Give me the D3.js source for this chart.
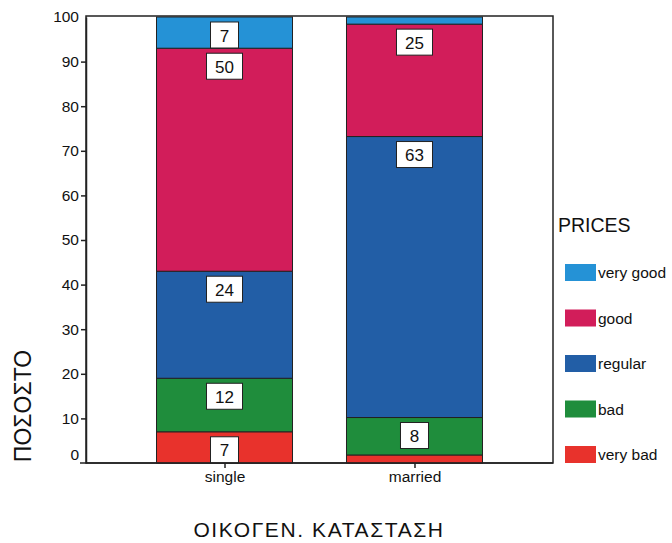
<!DOCTYPE html>
<html>
<head>
<meta charset="utf-8">
<script src="https://cdn.jsdelivr.net/npm/d3@7"></script>
<style>
  body { margin: 0; background: #fff; }
  svg text { font-family: "Liberation Sans", Arial, sans-serif; fill: #111; }
</style>
</head>
<body>
<svg id="vis" width="672" height="543"></svg>
<script>
// Datos
const CATEGORIAS = ["single", "married"];
const NIVELES = ["very bad", "bad", "regular", "good", "very good"];
const VALORES_SINGLE = [7, 12, 24, 50, 7];
const VALORES_MARRIED = [1.8, 8.4, 63.0, 25.2, 1.6];
const COLORES = ["#e8322c", "#1f8d3c", "#225ea6", "#d21d5a", "#2592d6"];
const TICKS_Y = [0, 10, 20, 30, 40, 50, 60, 70, 80, 90, 100];

const SVG = d3.select("#vis");

const izq = 86, der = 553, arriba = 17, abajo = 463;
const anchoBarra = 136;

const x = d3.scalePoint().domain(CATEGORIAS).range([izq, der]).padding(0.729);
const y = d3.scaleLinear().domain([0, 100]).range([abajo, arriba]);
const color = d3.scaleOrdinal().domain(NIVELES).range(COLORES);

// Construir filas para el stack
const filas = CATEGORIAS.map((c, i) => {
  const vals = i === 0 ? VALORES_SINGLE : VALORES_MARRIED;
  const fila = { cat: c };
  NIVELES.forEach((n, j) => fila[n] = vals[j]);
  return fila;
});
const series = d3.stack().keys(NIVELES)(filas);

// Marco
SVG.append("rect")
  .attr("x", izq).attr("y", arriba - 1)
  .attr("width", der - izq).attr("height", abajo - arriba + 1)
  .attr("fill", "none").attr("stroke", "#222").attr("stroke-width", 1.5);

// Barras
const grupos = SVG.selectAll(".serie")
  .data(series)
  .join("g")
  .attr("class", "serie")
  .attr("fill", d => color(d.key));

grupos.selectAll("rect")
  .data(d => d)
  .join("rect")
  .attr("x", d => x(d.data.cat) - anchoBarra / 2)
  .attr("y", d => y(d[1]))
  .attr("width", anchoBarra)
  .attr("height", d => y(d[0]) - y(d[1]))
  .attr("stroke", "#222")
  .attr("stroke-width", 1);

// Etiquetas con caja blanca (solo segmentos grandes)
const etiquetas = [];
series.forEach(s => s.forEach(d => {
  const v = d[1] - d[0];
  if (v >= 5) etiquetas.push({ cat: d.data.cat, top: d[1], texto: String(Math.round(v)) });
}));

const cajas = SVG.selectAll(".etiqueta")
  .data(etiquetas)
  .join("g")
  .attr("class", "etiqueta")
  .attr("transform", d => `translate(${x(d.cat)}, ${y(d.top) + 5})`);

cajas.append("rect")
  .attr("x", d => d.texto.length > 1 ? -18 : -14)
  .attr("width", d => d.texto.length > 1 ? 36 : 28)
  .attr("height", 26)
  .attr("fill", "#fff")
  .attr("stroke", "#222");

cajas.append("text")
  .attr("y", 19.5)
  .attr("text-anchor", "middle")
  .attr("font-size", 17)
  .text(d => d.texto);

// Eje Y
const ejeY = SVG.append("g").attr("transform", `translate(${izq},0)`)
  .call(d3.axisLeft(y).tickValues(TICKS_Y).tickSize(5).tickSizeOuter(0));
ejeY.select(".domain").attr("stroke", "#222").attr("stroke-width", 1.5);
ejeY.selectAll(".tick line").attr("stroke", "#222").attr("stroke-width", 1.5)
  .attr("display", d => d === 0 || d === 100 ? "none" : null);
ejeY.selectAll(".tick text")
  .attr("font-size", 15.5).attr("fill", "#111")
  .attr("font-family", "Liberation Sans, Arial, sans-serif")
  .attr("x", -7)
  .attr("dy", d => d === 0 ? "-0.2em" : "0.32em");

// Eje X
const ejeX = SVG.append("g").attr("transform", `translate(0,${abajo})`)
  .call(d3.axisBottom(x).tickSize(5).tickSizeOuter(0));
ejeX.select(".domain").attr("stroke", "#222").attr("stroke-width", 1.5)
  .attr("d", `M${izq - 6},0H${der}`);
ejeX.selectAll(".tick line").attr("stroke", "#222").attr("stroke-width", 1.5);
ejeX.selectAll(".tick text")
  .attr("font-size", 15.5).attr("fill", "#111")
  .attr("font-family", "Liberation Sans, Arial, sans-serif")
  .attr("y", 8);

// Títulos de ejes
SVG.append("text")
  .attr("transform", "translate(31,406) rotate(-90)")
  .attr("text-anchor", "middle")
  .attr("font-size", 23)
  .text("ΠΟΣΟΣΤΟ");

SVG.append("text")
  .attr("x", 319).attr("y", 537)
  .attr("text-anchor", "middle")
  .attr("font-size", 21)
  .attr("letter-spacing", 1.6)
  .text("ΟΙΚΟΓΕΝ. ΚΑΤΑΣΤΑΣΗ");

// Leyenda
SVG.append("text")
  .attr("x", 558).attr("y", 232)
  .attr("font-size", 19.5)
  .text("PRICES");

const leyenda = SVG.selectAll(".leyenda")
  .data(NIVELES.slice().reverse())
  .join("g")
  .attr("class", "leyenda")
  .attr("transform", (d, i) => `translate(565, ${264 + i * 45.5})`);

leyenda.append("rect")
  .attr("width", 31).attr("height", 17)
  .attr("fill", d => color(d));

leyenda.append("text")
  .attr("x", 33).attr("y", 14)
  .attr("font-size", 15.5)
  .text(d => d);
</script>
</body>
</html>
